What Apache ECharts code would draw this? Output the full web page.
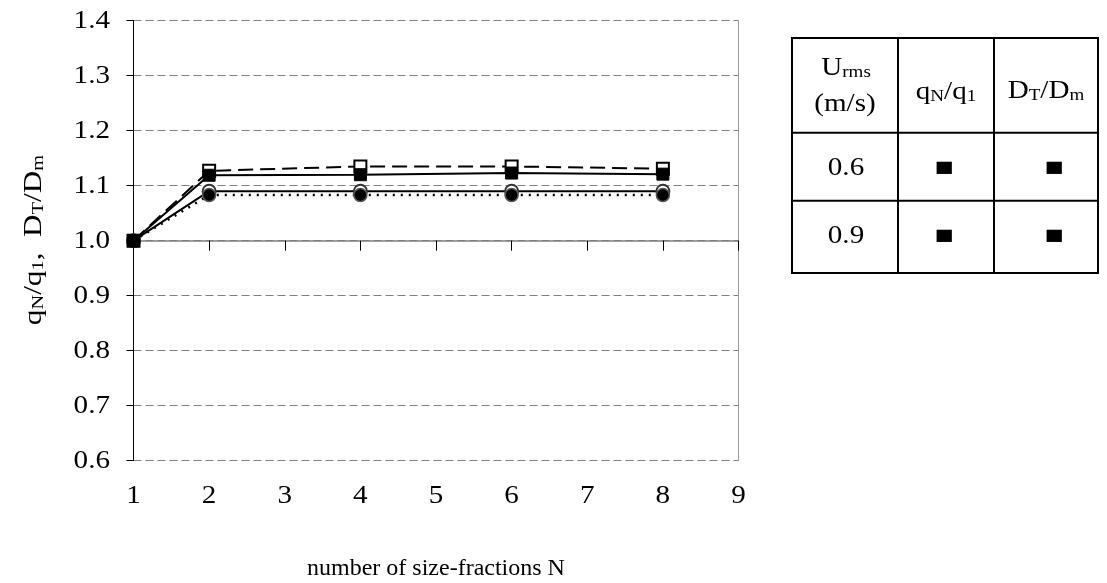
<!DOCTYPE html>
<html><head><meta charset="utf-8">
<script src="https://cdn.jsdelivr.net/npm/echarts@6/dist/echarts.min.js"></script>
<style>html,body{margin:0;padding:0;background:#fff}#c{width:1107px;height:583px}</style>
</head><body><div id="c"></div>
<script>
// ---- data ----
const nValues = [1, 2, 4, 6, 8];
const qN_06 = [1.000, 1.119, 1.120, 1.123, 1.121];
const DT_06 = [1.000, 1.127, 1.135, 1.135, 1.131];
const qN_09 = [1.000, 1.090, 1.090, 1.090, 1.090];
const DT_09 = [1.000, 1.083, 1.083, 1.083, 1.083];
const xTickLabels = ['1', '2', '3', '4', '5', '6', '7', '8', '9'];
const yTickLabels = ['0.6', '0.7', '0.8', '0.9', '1.0', '1.1', '1.2', '1.3', '1.4'];
const xTitle = 'number of size-fractions N';
const tableRows = [['0.6', '■', '■'], ['0.9', '■', '■']];

// ---- layout / style ----
const FONT = '"Liberation Serif", "Times New Roman", serif';
const FS = 26;
const SX = 1.12;
const xMin = Number(xTickLabels[0]), xMax = Number(xTickLabels[xTickLabels.length - 1]);
const yMin = Number(yTickLabels[0]), yMax = Number(yTickLabels[yTickLabels.length - 1]);
const G = { left: 133.5, right: 368.5, top: 20.7, bottom: 122.3 };
const gridH = 583 - G.top - G.bottom;
const crossOffset = -gridH * (1.0 - yMin) / (yMax - yMin);

const pts = arr => nValues.map((x, i) => [x, arr[i]]);

const chart = echarts.init(document.getElementById('c'), null, { renderer: 'canvas' });
const option = {
  animation: false,
  backgroundColor: '#fff',
  grid: { left: G.left, right: G.right, top: G.top, bottom: G.bottom, containLabel: false },
  xAxis: [
    { type: 'value', min: xMin, max: xMax, interval: 1, position: 'bottom',
      axisLine: { show: false, onZero: false }, axisTick: { show: false },
      axisLabel: { show: false }, splitLine: { show: false } },
    { type: 'value', min: xMin, max: xMax, interval: 1, position: 'bottom', offset: crossOffset,
      axisLine: { show: true, onZero: false, lineStyle: { color: '#808080', width: 1.5 } },
      axisTick: { show: true, length: 10, inside: false, lineStyle: { color: '#000', width: 1 } },
      axisLabel: { show: false }, splitLine: { show: false } }
  ],
  yAxis: [
    { type: 'value', min: yMin, max: yMax, interval: 0.1, position: 'left',
      axisLine: { show: true, onZero: false, lineStyle: { color: '#000', width: 1 } },
      axisTick: { show: true, length: 7, inside: false, lineStyle: { color: '#000', width: 1 } },
      axisLabel: { show: false },
      splitLine: { show: true, lineStyle: { color: '#808080', width: 1, type: [8, 4] } } },
    { type: 'value', min: yMin, max: yMax, interval: 0.1, position: 'right',
      axisLine: { show: true, onZero: false, lineStyle: { color: '#9a9a9a', width: 1 } },
      axisTick: { show: false }, axisLabel: { show: false }, splitLine: { show: false } }
  ],
  series: [
    { name: 'qN/q1 0.9', type: 'line', data: pts(qN_09), z: 3,
      symbol: 'circle', symbolSize: 13,
      itemStyle: { color: '#fff', borderColor: '#333', borderWidth: 2 },
      lineStyle: { color: '#000', width: 2 } },
    { name: 'DT/Dm 0.9', type: 'line', data: pts(DT_09), z: 4,
      symbol: 'circle', symbolSize: 13,
      itemStyle: { color: '#000', borderColor: '#555', borderWidth: 1.5 },
      lineStyle: { color: '#000', width: 2.5, type: [2, 6] } },
    { name: 'DT/Dm 0.6', type: 'line', data: pts(DT_06), z: 5,
      symbol: 'rect', symbolSize: 12,
      itemStyle: { color: '#fff', borderColor: '#000', borderWidth: 2 },
      lineStyle: { color: '#000', width: 2, type: [15, 7] } },
    { name: 'qN/q1 0.6', type: 'line', data: pts(qN_06), z: 6,
      symbol: 'rect', symbolSize: 12,
      itemStyle: { color: '#000', borderColor: '#000', borderWidth: 1 },
      lineStyle: { color: '#000', width: 2 } }
  ]
};
chart.setOption(option);

// ---- texts ----
const g = [];
function txt(text, x, y, size, align, sx) {
  return { type: 'text', x: x, y: y, scaleX: sx == null ? SX : sx, z: 100, silent: true,
    style: { text: text, fontSize: size, fontFamily: FONT, fill: '#000',
      align: align || 'center', verticalAlign: 'middle',
      textAlign: align || 'center', textVerticalAlign: 'middle' } };
}
xTickLabels.forEach(l => {
  const p = chart.convertToPixel({ seriesIndex: 0 }, [Number(l), yMin]);
  g.push(txt(l, p[0], p[1] + 35, FS, 'center'));
});
yTickLabels.forEach(l => {
  const p = chart.convertToPixel({ seriesIndex: 0 }, [xMin, Number(l)]);
  g.push(txt(l, 110, p[1], FS, 'right'));
});
g.push(txt(xTitle, G.left + (1107 - G.left - G.right) / 2, 569, 24, 'center', 1));

function rich(text, x, y, big, small, rot, sx) {
  const st = { fontFamily: FONT, fill: '#000', verticalAlign: 'bottom' };
  return { type: 'text', x: x, y: y, rotation: rot || 0, scaleX: sx == null ? SX : sx, z: 100, silent: true,
    style: { text: text, align: 'center', verticalAlign: 'middle', textAlign: 'center', textVerticalAlign: 'middle',
      rich: { b: Object.assign({ fontSize: big }, st), s: Object.assign({ fontSize: small }, st) } } };
}
g.push(rich('{b|q}{s|N}{b|/q}{s|1}{b|,  D}{s|T}{b|/D}{s|m}', 34, 240, 26, 17, Math.PI / 2, 1.2));

// table
const T = { x0: 792, x1: 1098, y0: 38, y1: 273, cols: [898, 994], rows: [132.7, 200.7] };
g.push({ type: 'rect', shape: { x: T.x0, y: T.y0, width: T.x1 - T.x0, height: T.y1 - T.y0 },
  style: { fill: 'none', stroke: '#000', lineWidth: 2 }, z: 90 });
T.cols.forEach(cx => g.push({ type: 'line', shape: { x1: cx, y1: T.y0, x2: cx, y2: T.y1 }, style: { stroke: '#000', lineWidth: 2 }, z: 90 }));
T.rows.forEach(ry => g.push({ type: 'line', shape: { x1: T.x0, y1: ry, x2: T.x1, y2: ry }, style: { stroke: '#000', lineWidth: 2 }, z: 90 }));
g.push(rich('{b|U}{s|rms}', 846, 68, FS, 17));
g.push(txt('(m/s)', 845, 104, FS, 'center'));
g.push(rich('{b|q}{s|N}{b|/q}{s|1}', 946, 92, FS, 17));
g.push(rich('{b|D}{s|T}{b|/D}{s|m}', 1046, 91, FS, 17));
const rowY = [168, 236];
const colX = [846, 944, 1054];
tableRows.forEach((r, i) => {
  r.forEach((c, j) => {
    const t = txt(c, colX[j], rowY[i], j === 0 ? FS : 16, 'center', j === 0 ? SX : 1.25);
    if (j > 0) t.style.fontFamily = '"DejaVu Sans", sans-serif';
    g.push(t);
  });
});
chart.setOption({ graphic: { elements: g } });
</script></body></html>
